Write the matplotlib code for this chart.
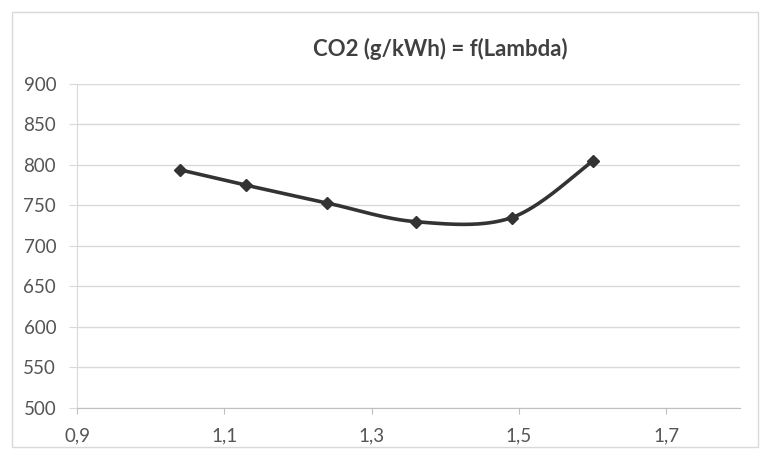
import matplotlib
matplotlib.use("Agg")
import matplotlib.pyplot as plt
import numpy as np
from matplotlib.patches import Rectangle

# data
lam = [1.04, 1.13, 1.24, 1.36, 1.49, 1.60]
co2 = [794, 775, 753, 730, 735, 805]
x_ticks = [0.9, 1.1, 1.3, 1.5, 1.7]
x_labels = ["0,9", "1,1", "1,3", "1,5", "1,7"]
y_ticks = [500, 550, 600, 650, 700, 750, 800, 850, 900]
title = "CO2 (g/kWh) = f(Lambda)"

plt.rcParams["font.family"] = ["Lato", "DejaVu Sans"]


def smooth(xs, ys, n=40):
    # Excel style smoothed line: bezier through points, neighbours give the handles
    p = np.column_stack([xs, ys]).astype(float)
    p = np.vstack([p[0], p, p[-1]])
    t = np.linspace(0, 1, n)[:, None]
    parts = []
    for i in range(1, len(p) - 2):
        p0, p1, p2, p3 = p[i - 1], p[i], p[i + 1], p[i + 2]
        c1 = p1 + (p2 - p0) / 6
        c2 = p2 - (p3 - p1) / 6
        seg = (1 - t) ** 3 * p1 + 3 * (1 - t) ** 2 * t * c1 + 3 * (1 - t) * t ** 2 * c2 + t ** 3 * p2
        parts.append(seg)
    out = np.vstack(parts)
    return out[:, 0], out[:, 1]


W, H = 769, 459
fig = plt.figure(figsize=(W / 100, H / 100), dpi=100)
fig.patches.append(Rectangle((12 / W, 1 - 447 / H), (758 - 12) / W, (447 - 12) / H,
                             transform=fig.transFigure, fill=False,
                             edgecolor="#d9d9d9", linewidth=1))

ax = fig.add_axes([77 / W, 1 - 408 / H, (740 - 77) / W, (408 - 84) / H])
ax.set_xlim(0.9, 1.8)
ax.set_ylim(500, 900)

ax.set_yticks(y_ticks)
ax.set_xticks(x_ticks)
ax.set_xticklabels(x_labels)
ax.yaxis.grid(True, color="#d9d9d9", linewidth=1)
ax.set_axisbelow(True)

for s in ["top", "right"]:
    ax.spines[s].set_visible(False)
ax.spines["left"].set_color("#d9d9d9")
ax.spines["bottom"].set_color("#bfbfbf")
ax.tick_params(axis="y", colors="#d9d9d9", labelcolor="#555555", labelsize=13.5,
               length=6, pad=9)
ax.tick_params(axis="x", colors="#bfbfbf", labelcolor="#555555", labelsize=13.5,
               length=4, pad=10)

sx, sy = smooth(lam, co2)
ax.plot(sx, sy, color="#333333", linewidth=2.6, solid_capstyle="round")
ax.plot(lam, co2, linestyle="none", marker="D", markersize=6.5, color="#333333")

fig.text(440 / W, 1 - 49 / H, title, ha="center", va="center",
         fontsize=16, fontweight="bold", color="#404040")

fig.savefig("out.png", dpi=100)
